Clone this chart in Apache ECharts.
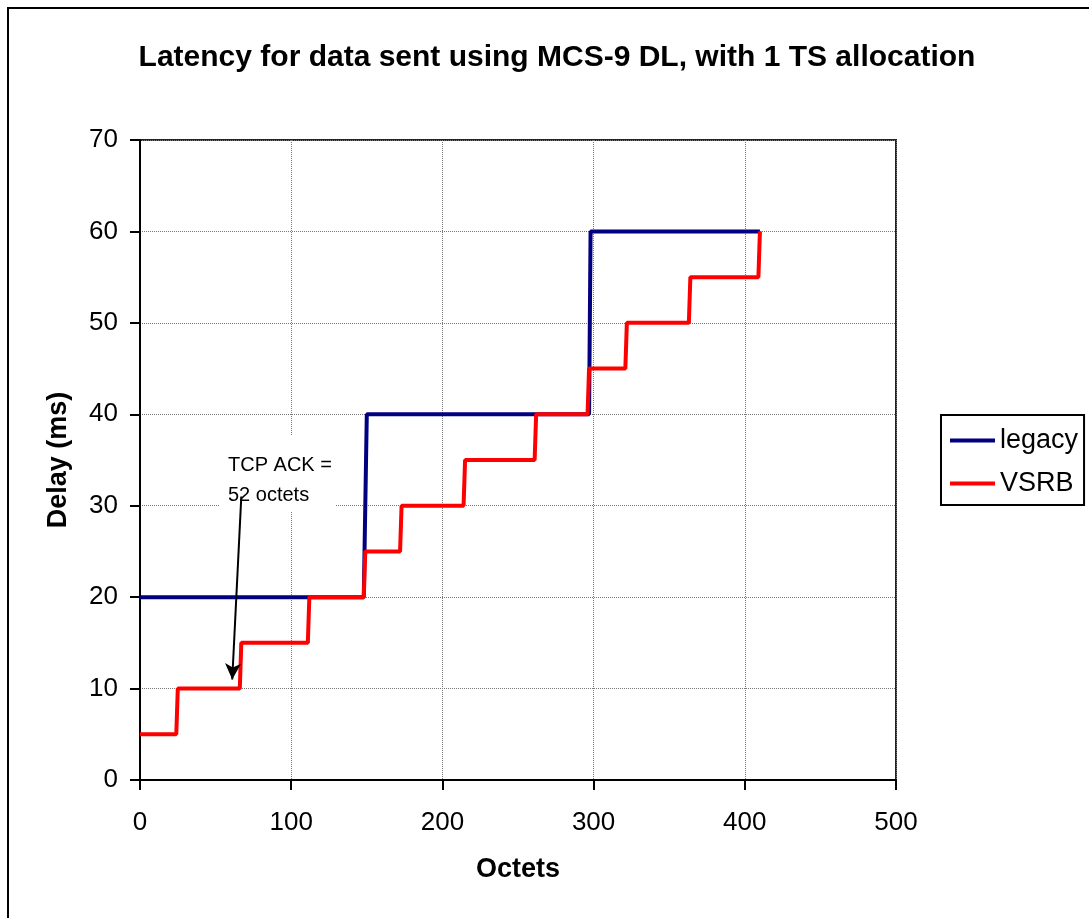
<!DOCTYPE html>
<html>
<head>
<meta charset="utf-8">
<script src="https://cdn.jsdelivr.net/npm/echarts@6/dist/echarts.min.js"></script>
<style>html,body{margin:0;padding:0;background:#fff}#c{width:1089px;height:918px}</style>
</head>
<body>
<div id="c"></div>
<script>
const titleText = 'Latency for data sent using MCS-9 DL, with 1 TS allocation';
const xName = 'Octets';
const yName = 'Delay (ms)';
const legacyName = 'legacy';
const vsrbName = 'VSRB';
// [octets, delay ms]
const legacyData = [[0,20],[148,20],[150,40],[297,40],[298,60],[410,60]];
const vsrbData = [[0,5],[24,5],[25,10],[66,10],[67,15],[111,15],[112,20],[148,20],[149,25],[172,25],[173,30],[214,30],[215,35],[261,35],[262,40],[296,40],[297,45],[321,45],[322,50],[363,50],[364,55],[409,55],[410,60]];
const annotationLines = ['TCP ACK =', '52 octets'];
const arrowFrom = [67, 31];
const arrowTo = [61, 11];

const F = "'Liberation Sans', Arial, sans-serif";
const chart = echarts.init(document.getElementById('c'));
chart.setOption({
  animation: false,
  backgroundColor: '#fff',
  title: {
    text: titleText, left: 552, textAlign: 'center', top: 38,
    textStyle: {fontFamily: F, fontWeight: 'bold', fontSize: 30, color: '#000'}
  },
  grid: {left: 140, top: 140, right: 193, bottom: 138, show: true, borderColor: '#222', borderWidth: 2, backgroundColor: 'transparent'},
  legend: {
    orient: 'vertical', left: 941, top: 415,
    padding: [12, 6, 8, 9], itemGap: 16,
    borderColor: '#000', borderWidth: 2, backgroundColor: '#fff',
    itemWidth: 45, itemHeight: 4, icon: 'rect',
    textStyle: {fontFamily: F, fontSize: 27, color: '#000'},
    data: [legacyName, vsrbName]
  },
  xAxis: {
    type: 'value', min: 0, max: 500, interval: 100,
    name: xName, nameLocation: 'middle', nameGap: 76,
    nameTextStyle: {fontFamily: F, fontWeight: 'bold', fontSize: 27, color: '#000'},
    axisLine: {show: true, onZero: false, lineStyle: {color: '#000', width: 2}},
    axisTick: {show: true, inside: false, length: 10, lineStyle: {color: '#000', width: 2}},
    axisLabel: {fontFamily: F, fontSize: 26, color: '#000', margin: 30},
    splitLine: {show: true, lineStyle: {color: '#777', width: 1, type: 'dotted'}}
  },
  yAxis: {
    type: 'value', min: 0, max: 70, interval: 10,
    name: yName, nameLocation: 'middle', nameGap: 68, nameRotate: 90,
    nameTextStyle: {fontFamily: F, fontWeight: 'bold', fontSize: 27, color: '#000'},
    axisLine: {show: true, onZero: false, lineStyle: {color: '#000', width: 2}},
    axisTick: {show: true, inside: false, length: 10, lineStyle: {color: '#000', width: 2}},
    axisLabel: {fontFamily: F, fontSize: 26, color: '#000', margin: 22},
    splitLine: {show: true, lineStyle: {color: '#777', width: 1, type: 'dotted'}}
  },
  series: [
    {
      name: legacyName, type: 'line', data: legacyData, showSymbol: false, symbol: 'none',
      color: '#000080', lineStyle: {color: '#000080', width: 4}, z: 3
    },
    {
      name: vsrbName, type: 'line', data: vsrbData, showSymbol: false, symbol: 'none',
      color: '#FF0000', lineStyle: {color: '#FF0000', width: 4}, z: 4,
      markLine: {
        silent: true, symbol: ['none', 'arrow'], symbolSize: [12, 16],
        label: {show: false},
        lineStyle: {color: '#000', width: 2, type: 'solid'},
        data: [[{coord: arrowFrom}, {coord: arrowTo}]]
      }
    }
  ],
  graphic: [
    {type: 'rect', z: 1, shape: {x: 8, y: 8, width: 1200, height: 1000}, style: {fill: 'none', stroke: '#000', lineWidth: 2}},
    {type: 'rect', z: 1, shape: {x: 220, y: 436, width: 116, height: 76}, style: {fill: '#fff'}},
    {type: 'text', z: 1, left: 228, top: 450, style: {text: annotationLines.join('\n'), font: "20px 'Liberation Sans', Arial, sans-serif", fill: '#000', lineHeight: 30}}
  ]
});
</script>
</body>
</html>
